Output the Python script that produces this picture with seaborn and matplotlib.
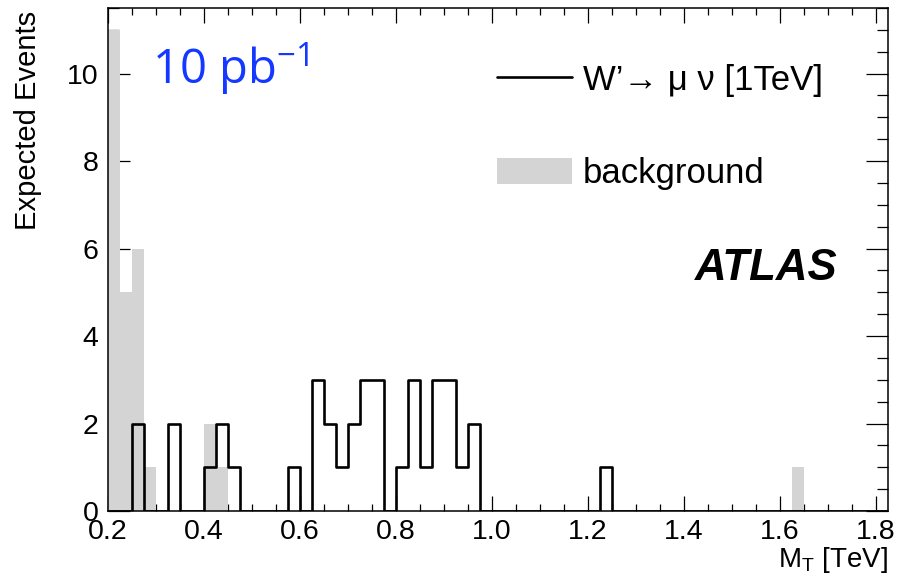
import numpy as np
import pandas as pd
import matplotlib
matplotlib.use("Agg")
import matplotlib.pyplot as plt
from matplotlib.lines import Line2D
from matplotlib.patches import Patch
from matplotlib.ticker import MultipleLocator
import seaborn as sns

# Histogram binning in M_T [TeV]
bin_width = 0.025
x_min, x_max = 0.2, 1.825
edges = [round(x_min + i * bin_width, 4) for i in range(66)]

# W' -> mu nu (1 TeV) signal: lower bin edge and expected events
sig_lo = [0.250, 0.325, 0.400, 0.425, 0.450, 0.575, 0.625, 0.650, 0.675, 0.700,
          0.725, 0.750, 0.800, 0.825, 0.850, 0.875, 0.900, 0.925, 0.950, 1.225]
sig_n = [2, 2, 1, 2, 1, 1, 3, 2, 1, 2,
         3, 3, 1, 3, 1, 3, 3, 1, 2, 1]

# Background: lower bin edge and expected events
bkg_lo = [0.200, 0.225, 0.250, 0.275, 0.400, 0.425, 1.625]
bkg_n = [11, 5, 6, 1, 2, 1, 1]

x_ticks = [0.2, 0.4, 0.6, 0.8, 1.0, 1.2, 1.4, 1.6, 1.8]
y_ticks = [0, 2, 4, 6, 8, 10]

sig = pd.DataFrame({"mt": np.array(sig_lo) + bin_width / 2, "n": sig_n})
bkg = pd.DataFrame({"mt": np.array(bkg_lo) + bin_width / 2, "n": bkg_n})

sns.set_theme(style="ticks")
plt.rcParams["font.family"] = ["Liberation Sans", "DejaVu Sans"]
plt.rcParams["mathtext.fontset"] = "custom"
plt.rcParams["mathtext.rm"] = "Liberation Sans"
plt.rcParams["text.color"] = "black"
plt.rcParams["axes.labelcolor"] = "black"

W, H, dpi = 913, 580, 100
fig = plt.figure(figsize=(W / dpi, H / dpi), dpi=dpi)
L, R, B, T = 108, 888, 511, 8
ax = fig.add_axes([L / W, 1 - B / H, (R - L) / W, (B - T) / H])

bkg_color = "#d4d4d4"
sns.histplot(data=bkg, x="mt", weights="n", bins=edges, element="step",
             fill=True, color=bkg_color, alpha=1, linewidth=0, ax=ax)
sns.histplot(data=sig, x="mt", weights="n", bins=edges, element="step",
             fill=False, color="black", linewidth=1.9, ax=ax)

ax.set_xlim(x_min, x_max)
ax.set_ylim(0, 11.5)
ax.set_xticks(x_ticks)
ax.set_xticklabels([f"{v:.1f}" for v in x_ticks])
ax.set_yticks(y_ticks)
ax.xaxis.set_minor_locator(MultipleLocator(0.05))
ax.yaxis.set_minor_locator(MultipleLocator(0.5))

for s in ax.spines.values():
    s.set_linewidth(1.1)
    s.set_color("black")

ax.tick_params(axis="both", which="both", direction="in", top=True, right=True,
               colors="black", labelcolor="black", width=0.9, labelsize=20.5)
ax.tick_params(axis="x", which="major", length=11, pad=6)
ax.tick_params(axis="x", which="minor", length=5)
ax.tick_params(axis="y", which="major", length=16, pad=7)
ax.tick_params(axis="y", which="minor", length=8)

ax.set_ylabel("Expected Events", fontsize=21, loc="top")
ax.yaxis.set_label_coords(-0.084, 0.995)
ax.set_xlabel(r"M$_\mathregular{T}$ [TeV]", fontsize=20, loc="right")
ax.xaxis.set_label_coords(1.0, -0.068)

handles = [Line2D([], [], color="black", linewidth=1.9),
           Patch(facecolor=bkg_color, edgecolor="none")]
labels = ["W\u2019\u2192 \u03bc \u03bd [1TeV]", "background"]
ax.legend(handles, labels, loc="upper left",
          bbox_to_anchor=((497 - L) / (R - L), (B - 64) / (B - T)),
          frameon=False, fontsize=25, handlelength=2.15, handleheight=0.78,
          handletextpad=0.32, labelspacing=1.74, borderpad=0, borderaxespad=0)

ax.text((838 - L) / (R - L), (B - 268) / (B - T), "ATLAS", transform=ax.transAxes,
        ha="right", va="center", fontsize=31.5, fontweight="bold", fontstyle="italic")
ax.text((152 - L) / (R - L), (B - 69) / (B - T), r"10 pb$^{\mathregular{-1}}$",
        transform=ax.transAxes, ha="left", va="center", fontsize=34,
        color="#1438ff", family=["Open Sans", "DejaVu Sans"])

fig.savefig("out.png", dpi=dpi)
